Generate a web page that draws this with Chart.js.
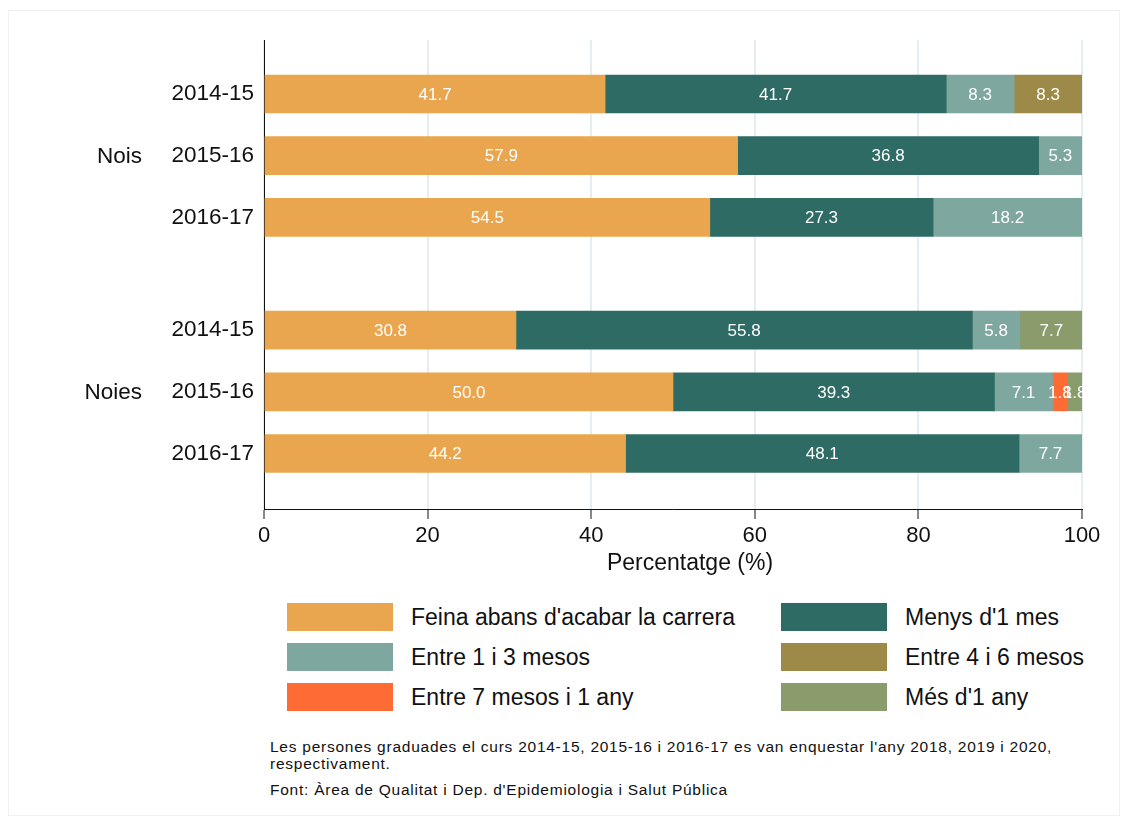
<!DOCTYPE html>
<html>
<head>
<meta charset="utf-8">
<script src="https://cdn.jsdelivr.net/npm/chart.js@4"></script>
<style>
  body { margin: 0; background: #fff; font-family: "Liberation Sans", Arial, sans-serif; }
  .frame { position: absolute; left: 8px; top: 10px; width: 1112px; height: 806px; border: 1px solid #eef1f3; box-sizing: border-box; }
  .wrap { position: absolute; left: 0; top: 0; width: 1129px; height: 590px; }
  .legend { position: absolute; left: 287px; top: 603px; width: 820px; }
  .item { position: absolute; display: flex; align-items: center; font-size: 23px; color: #111; height: 28px; }
  .sw { width: 106px; height: 28px; margin-right: 18px; }
  .note { position: absolute; left: 270px; font-size: 15.5px; letter-spacing: 0.75px; color: #111; line-height: 17px; }
</style>
</head>
<body>
<div class="frame"></div>
<div class="wrap"><canvas id="c" width="1129" height="590"></canvas></div>
<div class="legend" id="legend"></div>
<div class="note" style="top:738px;">Les persones graduades el curs 2014-15, 2015-16 i 2016-17 es van enquestar l'any 2018, 2019 i 2020,<br>respectivament.</div>
<div class="note" style="top:781px;">Font: Àrea de Qualitat i Dep. d'Epidemiologia i Salut Pública</div>
<script>
// categories
var years = ['2014-15', '2015-16', '2016-17', '2014-15', '2015-16', '2016-17'];
var groups = ['Nois', 'Noies'];
var seriesNames = ["Feina abans d'acabar la carrera", "Menys d'1 mes", "Entre 1 i 3 mesos", "Entre 4 i 6 mesos", "Entre 7 mesos i 1 any", "Més d'1 any"];
var colors = ['#eaa64e', '#2e6b64', '#7ea7a0', '#9d8a48', '#ff6b35', '#8a9c6c'];

// values (%)
var feina   = [41.7, 57.9, 54.5, 30.8, 50.0, 44.2];
var menys1  = [41.7, 36.8, 27.3, 55.8, 39.3, 48.1];
var entre13 = [8.3, 5.3, 18.2, 5.8, 7.1, 7.7];
var entre46 = [8.3, 0, 0, 0, 0, 0];
var entre7  = [0, 0, 0, 0, 1.8, 0];
var mes1    = [0, 0, 0, 7.7, 1.8, 0];
var xTicks = [0, 20, 40, 60, 80, 100];
var xTitle = 'Percentatge (%)';

// row layout on the y axis (gap between the two groups)
var rowPos = [0, 1, 2, 3.83, 4.83, 5.83];

var allSeries = [feina, menys1, entre13, entre46, entre7, mes1];
var FONT = '"Liberation Sans", Arial, sans-serif';

var datasets = allSeries.map(function(vals, i) {
  return {
    label: seriesNames[i],
    data: vals.map(function(v, j) { return { x: v || null, y: rowPos[j] }; }),
    backgroundColor: colors[i],
    barThickness: 38,
    borderWidth: 0
  };
});

// value labels inside the bars, group labels, axis title
var labelPlugin = {
  id: 'labels',
  afterDatasetsDraw: function(chart) {
    var ctx = chart.ctx;
    ctx.save();
    ctx.font = '17px ' + FONT;
    ctx.fillStyle = '#fff';
    ctx.textAlign = 'center';
    ctx.textBaseline = 'middle';
    chart.data.datasets.forEach(function(ds, i) {
      var meta = chart.getDatasetMeta(i);
      meta.data.forEach(function(bar, j) {
        var v = allSeries[i][j];
        if (!v) return;
        ctx.fillText(v.toFixed(1), (bar.x + bar.base) / 2, bar.y + 1);
      });
    });
    var ys = chart.scales.y;
    ctx.fillStyle = '#111';
    ctx.font = '23px ' + FONT;
    ctx.fillText(xTitle, 690, 564);
    ctx.textAlign = 'right';
    ctx.font = '22.5px ' + FONT;
    ctx.fillText(groups[0], 142, ys.getPixelForValue(rowPos[1]) + 1);
    ctx.fillText(groups[1], 142, ys.getPixelForValue(rowPos[4]) + 1);
    ctx.restore();
  }
};

new Chart(document.getElementById('c'), {
  type: 'bar',
  data: { datasets: datasets },
  plugins: [labelPlugin],
  options: {
    indexAxis: 'y',
    responsive: false,
    animation: false,
    layout: { padding: { left: 0, right: 47, top: 40, bottom: 0 } },
    plugins: { legend: { display: false }, tooltip: { enabled: false } },
    scales: {
      x: {
        type: 'linear',
        stacked: true,
        min: 0,
        max: 100,
        afterBuildTicks: function(s) { s.ticks = xTicks.map(function(v) { return { value: v }; }); },
        grid: { color: '#e4edf0', lineWidth: 2, drawTicks: true, tickLength: 10, tickColor: '#111', tickWidth: 1 },
        border: { display: true, color: '#111', width: 1 },
        ticks: { color: '#111', font: { size: 22, family: FONT }, padding: 4 },
        afterFit: function(s) { s.height = 81; }
      },
      y: {
        type: 'linear',
        reverse: true,
        stacked: true,
        offset: false,
        min: -0.875,
        max: 6.73,
        afterBuildTicks: function(s) { s.ticks = rowPos.map(function(v) { return { value: v }; }); },
        ticks: {
          color: '#111',
          font: { size: 22.5, family: FONT },
          padding: 2,
          callback: function(v) { var k = rowPos.indexOf(v); return k >= 0 ? years[k] : ''; }
        },
        grid: { display: false },
        border: { display: true, color: '#111', width: 1 },
        afterFit: function(s) { s.width = 264; }
      }
    }
  }
});

// legend in two columns
var leg = document.getElementById('legend');
seriesNames.forEach(function(name, i) {
  var d = document.createElement('div');
  d.className = 'item';
  d.style.left = (i % 2 ? 494 : 0) + 'px';
  d.style.top = (Math.floor(i / 2) * 40) + 'px';
  d.innerHTML = '<div class="sw" style="background:' + colors[i] + '"></div><span>' + name + '</span>';
  leg.appendChild(d);
});
</script>
</body>
</html>
